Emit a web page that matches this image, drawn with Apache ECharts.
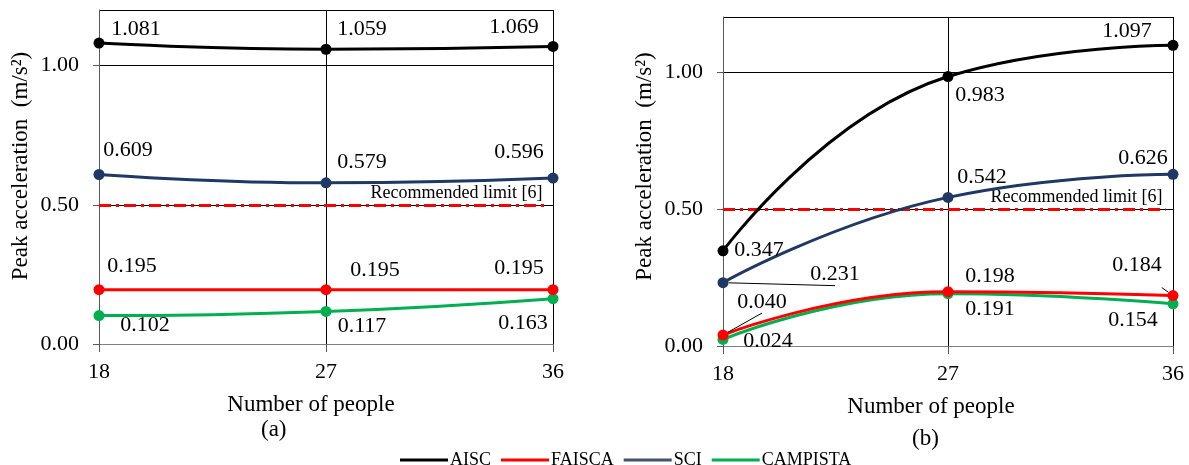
<!DOCTYPE html>
<html>
<head>
<meta charset="utf-8">
<title>Peak acceleration</title>
<script src="https://cdn.jsdelivr.net/npm/echarts@6/dist/echarts.min.js"></script>
<style>
  html, body { margin: 0; padding: 0; background: #fff; }
  #chart { width: 1189px; height: 465px; }
</style>
</head>
<body>
<div id="chart"></div>
<script>
// number of people (x)
const people = [18, 27, 36]

// panel (a)
const aiscA = [1.081, 1.059, 1.069]
const faiscaA = [0.195, 0.195, 0.195]
const sciA = [0.609, 0.579, 0.596]
const campistaA = [0.102, 0.117, 0.163]

// panel (b)
const aiscB = [0.347, 0.983, 1.097]
const faiscaB = [0.040, 0.198, 0.184]
const sciB = [0.231, 0.542, 0.626]
const campistaB = [0.024, 0.191, 0.154]

const limitValue = 0.5
const limitEnd = 35.7
const limitText = 'Recommended limit [6]'

const seriesNames = ['AISC', 'FAISCA', 'SCI', 'CAMPISTA']
const colors = ['#000000', '#ff0000', '#1f3864', '#00b050']

const FONT = "'Liberation Serif', 'Times New Roman', serif"

// label offsets (px) from each point, per panel and series
const offsA = [
  [[37, -14], [36, -20], [-39, -19]],
  [[33, -24], [49, -20], [-34, -22]],
  [[29, -24], [36, -21], [-34, -26]],
  [[46, 10], [36, 15], [-30, 25]]
]
const offsB = [
  [[36, -1], [32, 19], [-46, -14]],
  [[39, -33], [42, -15], [-36, -30]],
  [[112, -8], [34, -20], [-30, -16]],
  [[45, 2], [42, 16], [-40, 16]]
]
// which labels have a leader line in (b)
const leadersB = [[], [0, 2], [0], []]

function makeSeries(name, vals, idx, offs, leaders, axisIdx) {
  return {
    name: name,
    type: 'line',
    xAxisIndex: axisIdx,
    yAxisIndex: axisIdx,
    smooth: 0.5,
    symbol: 'circle',
    symbolSize: 11,
    z: 10 - idx,
    itemStyle: { color: colors[idx] },
    lineStyle: { color: colors[idx], width: 3 },
    label: {
      show: true,
      position: 'inside',
      color: '#000',
      fontFamily: FONT,
      fontSize: 22,
      formatter: p => p.value[1].toFixed(3)
    },
    data: vals.map((v, i) => {
      const item = { value: [people[i], v], label: { offset: offs[i] } }
      if (leaders.indexOf(i) >= 0) {
        item.labelLine = { show: true, length2: 0, lineStyle: { color: '#000', width: 1 } }
      }
      return item
    })
  }
}

function limitLine(axisIdx) {
  return {
    name: 'limit',
    type: 'line',
    xAxisIndex: axisIdx,
    yAxisIndex: axisIdx,
    data: [],
    silent: true,
    markLine: {
      silent: true,
      symbol: 'none',
      animation: false,
      lineStyle: { color: '#ff0000', width: 3, type: [12, 5, 3, 5] },
      label: {
        position: 'insideEndTop',
        distance: 3,
        formatter: limitText,
        color: '#000',
        fontFamily: FONT,
        fontSize: 18
      },
      data: [[{ coord: [people[0], limitValue] }, { coord: [limitEnd, limitValue] }]]
    }
  }
}

function xAxisCfg(gridIdx, padRight) {
  return {
    type: 'value',
    gridIndex: gridIdx,
    min: 18,
    max: 36,
    interval: 9,
    name: 'Number of people',
    nameLocation: 'middle',
    nameGap: 49,
    nameTextStyle: { color: '#000', fontFamily: FONT, fontSize: 23, padding: [0, padRight, 0, 0] },
    axisLine: { lineStyle: { color: '#7f7f7f', width: 1 } },
    axisTick: { show: true, length: 8, lineStyle: { color: '#595959' } },
    axisLabel: { color: '#000', fontFamily: FONT, fontSize: 22, margin: 17 },
    splitLine: { show: true, lineStyle: { color: '#000', width: 1 } }
  }
}

function yAxisCfg(gridIdx, padLeft) {
  return {
    type: 'value',
    gridIndex: gridIdx,
    min: 0,
    max: 1.2,
    interval: 0.5,
    name: 'Peak acceleration  (m/s²)',
    nameLocation: 'middle',
    nameGap: 67,
    nameTextStyle: { color: '#000', fontFamily: FONT, fontSize: 23, padding: [0, 0, 0, padLeft] },
    axisLine: { show: true, lineStyle: { color: '#595959', width: 1 } },
    axisTick: { show: true, length: 6, lineStyle: { color: '#595959' } },
    axisLabel: {
      color: '#000', fontFamily: FONT, fontSize: 22, margin: 20,
      showMaxLabel: false,
      formatter: v => (Math.abs(v * 2 - Math.round(v * 2)) < 1e-6 ? v.toFixed(2) : '')
    },
    splitLine: { show: true, lineStyle: { color: '#000', width: 1 } }
  }
}

const chart = echarts.init(document.getElementById('chart'))

const seriesA = [aiscA, faiscaA, sciA, campistaA].map((vals, i) =>
  makeSeries(seriesNames[i], vals, i, offsA[i], [], 0))
const seriesB = [aiscB, faiscaB, sciB, campistaB].map((vals, i) =>
  makeSeries(seriesNames[i], vals, i, offsB[i], leadersB[i], 1))

chart.setOption({
  animation: false,
  textStyle: { fontFamily: FONT },
  title: [
    { text: '(a)', left: 256, top: 413, textStyle: { fontFamily: FONT, fontSize: 23, fontWeight: 'normal', color: '#000' } },
    { text: '(b)', left: 907, top: 422, textStyle: { fontFamily: FONT, fontSize: 23, fontWeight: 'normal', color: '#000' } }
  ],
  legend: {
    data: seriesNames.map((n, i) => ({
      name: n,
      itemStyle: { color: i === 2 ? '#44546a' : colors[i] },
      lineStyle: { color: i === 2 ? '#44546a' : colors[i] }
    })),
    left: 395,
    top: 446,
    icon: 'rect',
    itemWidth: 48,
    itemHeight: 3,
    itemGap: 10,
    textStyle: { color: '#000', fontFamily: FONT, fontSize: 18, padding: [0, 0, 0, -3] }
  },
  grid: [
    { left: 99, right: 636, top: 10, bottom: 121 },
    { left: 723, right: 16, top: 17, bottom: 119 }
  ],
  xAxis: [xAxisCfg(0, 30), xAxisCfg(1, 34)],
  yAxis: [yAxisCfg(0, 22), yAxisCfg(1, 30)],
  series: seriesA.concat(seriesB, [limitLine(0), limitLine(1)])
})
</script>
</body>
</html>
